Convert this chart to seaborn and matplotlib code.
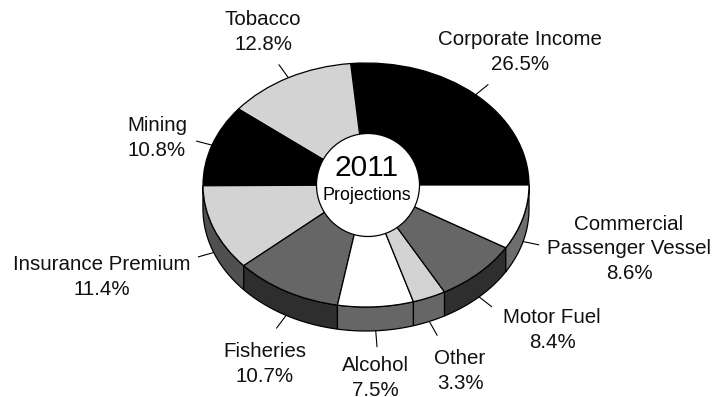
import numpy as np
import matplotlib
matplotlib.use("Agg")
import matplotlib.pyplot as plt
from matplotlib.patches import Ellipse
import seaborn as sns

# Revenue sources, counter-clockwise from due east
sources = ["Corporate Income", "Tobacco", "Mining", "Insurance Premium", "Fisheries",
           "Alcohol", "Other", "Motor Fuel", "Commercial\nPassenger Vessel"]
shares = [26.5, 12.8, 10.8, 11.4, 10.7, 7.5, 3.3, 8.4, 8.6]
top_colors = ["#000000", "#d3d3d3", "#000000", "#d3d3d3", "#666666",
              "#ffffff", "#d3d3d3", "#666666", "#ffffff"]
side_colors = ["#000000", "#505050", "#000000", "#505050", "#2e2e2e",
               "#666666", "#666666", "#2e2e2e", "#6e6e6e"]
# Label centres in pixels from the top-left corner of the figure
label_centres = [(520, 52), (263, 32), (157, 138), (102, 277), (265, 364),
                 (375, 378), (460, 371), (552, 330), (629, 249)]

W, H = 721, 397
CX, CY, RX, RY = 366, 185, 163, 122
DEPTH = 24 / RY          # rim height in axis units
TICK = 16                # leader length, pixels

sns.set_theme(style="white")
plt.rcParams["font.family"] = ["Liberation Sans", "DejaVu Sans"]

fig = plt.figure(figsize=(W / 100, H / 100), dpi=100, facecolor="white")
ax = fig.add_axes([(CX - RX) / W, 1 - (CY + RY) / H, 2 * RX / W, 2 * RY / H])

wedges, _ = ax.pie(shares, colors=top_colors, startangle=0, counterclock=True,
                   wedgeprops=dict(edgecolor="black", linewidth=0.9, zorder=3))
ax.set_aspect("auto")
ax.set_xlim(-1, 1)
ax.set_ylim(-1, 1)
sns.despine(ax=ax, left=True, bottom=True)

to_fig = lambda px, py: (px / W, 1 - py / H)

for wedge, name, share, shade, centre in zip(wedges, sources, shares, side_colors, label_centres):
    # Rim: the part of the slice's arc that faces the viewer
    lo, hi = max(wedge.theta1, 180), min(wedge.theta2, 360)
    if hi > lo:
        t = np.radians(np.linspace(lo, hi, 80))
        xs = np.cos(t)
        ys = np.sin(t)
        ax.fill(np.r_[xs, xs[::-1]], np.r_[ys, ys[::-1] - DEPTH], facecolor=shade,
                edgecolor="black", linewidth=0.9, zorder=2, clip_on=False)

    # Leader from the outer edge, running radially outward
    mid = np.radians((wedge.theta1 + wedge.theta2) / 2)
    x0, y0 = np.cos(mid), np.sin(mid)
    drop = DEPTH if y0 < 0 and x0 * x0 < 0.99 else 0
    dx, dy = RX * x0, RY * y0
    norm = np.hypot(dx, dy)
    ax.plot([x0, x0 + TICK * dx / norm / RX], [y0 - drop, y0 - drop + TICK * dy / norm / RY],
            color="black", linewidth=0.8, zorder=1, clip_on=False)

    fig.text(*to_fig(*centre), f"{name}\n{share}%", ha="center", va="center",
             fontsize=14.8, color="#111111", linespacing=1.39)

# Central hub with the year
ax.add_patch(Ellipse((2 / RX, 0), 2 * 51.5 / RX, 2 * 51.5 / RY, facecolor="white",
                     edgecolor="black", linewidth=0.9, zorder=4))
fig.text(*to_fig(367, 168), "2011", ha="center", va="center", fontsize=21.5, color="black", zorder=5)
fig.text(*to_fig(367, 195), "Projections", ha="center", va="center", fontsize=12.9, color="black", zorder=5)

fig.savefig("out.png", dpi=100)
